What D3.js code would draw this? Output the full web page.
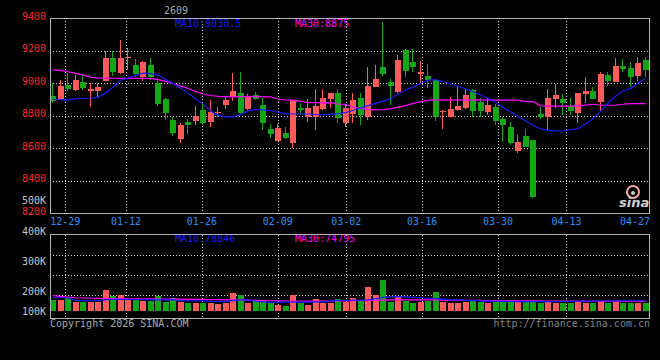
<!DOCTYPE html>
<html><head><meta charset="utf-8">
<script src="https://cdn.jsdelivr.net/npm/d3@7"></script>
<style>html,body{margin:0;padding:0;background:#000;}svg{display:block;}</style>
</head><body>
<svg id="c" width="660" height="360"></svg>
<script>
const contract = "2609";
const dates = ["12-25","12-26","12-29","12-30","12-31","01-05","01-06","01-07","01-08","01-09",
"01-12","01-13","01-14","01-15","01-16","01-19","01-20","01-21","01-22","01-23",
"01-26","01-27","01-28","01-29","01-30","02-02","02-03","02-04","02-05","02-06",
"02-09","02-10","02-11","02-12","02-13","02-24","02-25","02-26","02-27","03-02",
"03-03","03-04","03-05","03-06","03-09","03-10","03-11","03-12","03-13","03-16",
"03-17","03-18","03-19","03-20","03-23","03-24","03-25","03-26","03-27","03-30",
"03-31","04-01","04-02","04-03","04-07","04-08","04-09","04-10","04-13","04-14",
"04-15","04-16","04-17","04-20","04-21","04-22","04-23","04-24","04-27","04-28"];
const open = [8922,8903,8990,8959,9010,8954,8954,9016,9154,9062,
9154,9113,9041,9113,9004,8903,8774,8657,8762,8770,
8836,8762,8815,8866,8918,8938,8840,8928,8866,8719,
8645,8696,8630,8850,8795,8790,8840,8903,8938,8754,
8811,8908,8795,8979,9102,9010,8948,9205,9133,9057,
9045,9020,8825,8795,8836,8846,8959,8887,8825,8856,
8778,8733,8585,8676,8651,8811,8790,8903,8903,8860,
8819,8934,8953,8887,9051,9010,9106,9092,9047,9143];
const high = [9000,9020,9065,9051,9057,9000,9004,9201,9201,9266,
9215,9148,9137,9154,9031,8908,8794,8754,8778,8860,
8873,8897,8852,8922,9065,9071,8932,8945,8911,8749,
8749,8733,8900,8880,8901,8965,8965,8942,8963,8873,
8938,8938,9102,9113,9379,9026,9174,9209,9209,9137,
9119,9025,8836,8918,8983,8963,8963,8908,8911,8873,
8794,8764,8682,8719,8651,8852,8963,8996,8932,8908,
8942,9037,8975,9071,9071,9154,9148,9129,9160,9164];
const low = [8880,8897,8954,8954,8959,8852,8908,9016,9045,9057,
9082,9041,9016,9020,8860,8774,8676,8634,8688,8743,
8743,8733,8791,8840,8893,8805,8836,8897,8713,8661,
8645,8657,8600,8805,8764,8713,8836,8846,8754,8733,
8758,8743,8774,8975,9045,8866,8942,9041,9071,9004,
8969,8770,8719,8790,8830,8840,8795,8795,8805,8743,
8640,8620,8573,8605,8292,8780,8713,8846,8805,8805,
8754,8880,8903,8831,8983,9010,9071,8975,9014,9037];
const close = [8893,8983,8963,9020,8969,8963,8975,9154,9071,9154,
9164,9057,9133,9037,8873,8815,8696,8743,8745,8799,
8758,8823,8825,8897,8953,8815,8922,8903,8754,8688,
8727,8665,8897,8835,8850,8858,8911,8938,8785,8846,
8897,8805,8983,9026,9057,8983,9143,9078,9098,9071,
9020,8795,8830,8842,8860,8928,8830,8830,8866,8770,
8743,8631,8637,8610,8302,8793,8908,8928,8877,8830,
8938,8953,8903,9057,9014,9106,9088,9037,9123,9082];
const volume = [85000,85000,98000,72000,72000,72000,72000,162000,115000,123000,
90000,90000,79000,77000,115000,72000,98000,72000,59000,64000,
59000,59000,52000,59000,141000,123000,64000,79000,79000,59000,
46000,38000,123000,64000,46000,92000,59000,64000,92000,72000,
98000,79000,182000,123000,238000,72000,115000,80000,65000,70000,
75000,146000,70000,65000,62000,70000,75000,68000,62000,70000,
72000,85000,75000,70000,80000,62000,72000,65000,60000,62000,
70000,62000,60000,75000,62000,70000,60000,62000,65000,62000];
const ma10 = [8902,8900,8897,8906,8908,8908,8915,8940,8977,9020,
9033,9049,9062,9060,9049,9025,8998,8969,8938,8903,
8872,8830,8803,8794,8794,8809,8830,8840,8837,8831,
8822,8813,8811,8811,8811,8808,8806,8810,8813,8820,
8834,8849,8863,8876,8890,8905,8934,8959,8978,9000,
9020,9022,9011,8996,8980,8965,8948,8928,8908,8882,
8851,8823,8796,8768,8740,8719,8710,8706,8708,8713,
8722,8750,8783,8830,8880,8922,8953,8969,9002,9030.5];
const ma30 = [9084,9078,9071,9061,9052,9037,9033,9031,9031,9030,
9031,9030,9030,9029,9023,9012,8999,8983,8968,8949,
8934,8925,8919,8918,8917,8918,8919,8918,8917,8916,
8902,8898,8897,8889,8881,8881,8880,8881,8871,8871,
8854,8846,8839,8836,8838,8844,8853,8863,8876,8887,
8897,8897,8898,8898,8897,8896,8897,8898,8898,8897,
8897,8896,8896,8887,8887,8861,8860,8859,8860,8860,
8861,8866,8871,8865,8865,8865,8871,8875,8875,8875];
const volMa10 = [105000,104000,100000,82000,80000,79000,80000,88000,90000,90000,
89000,88000,87000,87000,86000,86000,85000,80000,79000,79000,
78000,74000,72000,72000,82000,85000,85000,75000,70000,69000,
69000,68000,68000,69000,69000,70000,70000,80000,82000,82000,
83000,84000,86000,95000,105000,108000,110000,108000,105000,102000,
98000,95000,92000,88000,85000,82000,80000,78000,76000,75000,
74000,73000,72000,72000,72000,72000,72000,72000,73000,74000,
75000,76000,76000,77000,77000,78000,78000,79000,79000,78846];
const volMa30 = [118000,112000,106000,102000,100000,98000,97000,96000,95000,95000,
94000,94000,93000,93000,92000,92000,91000,91000,90000,90000,
89000,88000,87000,86000,86000,85000,84000,82000,80000,79000,
78000,77000,77000,77000,76000,76000,77000,77000,78000,78000,
79000,80000,81000,82000,84000,85000,86000,86000,86000,85000,
85000,85000,84000,84000,83000,82000,82000,81000,80000,80000,
79000,79000,78000,78000,78000,77000,77000,77000,76000,76000,
76000,76000,75000,75000,75000,75000,75000,75000,75000,74795];
const priceTicks = [9400,9200,9000,8800,8600,8400,8200];
const volTickValues = [500000,400000,300000,200000,100000];
const volTickLabels = ["500K","400K","300K","200K","100K"];
const dateTicks = ["12-29","01-12","01-26","02-09","03-02","03-16","03-30","04-13","04-27"];
const copyright = "Copyright 2026 SINA.COM";
const sourceUrl = "http://finance.sina.com.cn";

const W=660,H=360,L=50,R=650;
const mainTop=18.3, mainBot=213.3, volTop=234.5, volBot=318.5, volBase=311;
const RED="#ff5a5a", GREEN="#14a614", BLUE="#1a1aff", MAG="#ff00ff";
const FONT="DejaVu Sans Mono";
const n=dates.length;
const svg=d3.select("#c");
svg.append("rect").attr("width",W).attr("height",H).attr("fill","#000");

const x=d3.scaleBand().domain(d3.range(n)).range([L,R]);
const gx=d3.scaleLinear().domain([0,n-1]).range([L,R]);
const y=d3.scaleLinear().domain([8200,9400]).range([mainBot,mainTop]);
const yv=d3.scaleLinear().domain([0,400000]).range([volBase,volBase-52]);
const yvLab=d3.scaleLinear().domain([100000,200000,300000,400000,500000]).range([311,291,261,231,200]);
const yvGrid=d3.scaleLinear().domain([0,4]).range([315.3,234.5]);
const bw=6;
const bx=i=>Math.round(x(i));
const cx=i=>bx(i)+2.5;
const col=i=>close[i]>=open[i]?RED:GREEN;

const grid=svg.append("g").attr("stroke","#d8d8d8").attr("stroke-dasharray","1,2").attr("shape-rendering","crispEdges");
// horizontal grid main
priceTicks.filter(v=>v<9400&&v>8200).forEach(v=>{
  const yy=Math.round(y(v))+0.5;
  grid.append("line").attr("x1",L).attr("x2",R).attr("y1",yy).attr("y2",yy);
});
[1,2,3].forEach(k=>{
  const yy=Math.round(yvGrid(k))+0.5;
  grid.append("line").attr("x1",L).attr("x2",R).attr("y1",yy).attr("y2",yy);
});
// vertical grid
dateTicks.forEach(t=>{
  const idx=dates.indexOf(t);
  const xx=Math.round(gx(idx))+0.5;
  if(xx>R-10) return;
  grid.append("line").attr("x1",xx).attr("x2",xx).attr("y1",mainTop).attr("y2",mainBot);
  grid.append("line").attr("x1",xx).attr("x2",xx).attr("y1",volTop).attr("y2",volBot);
});

// candles
const cg=svg.append("g").attr("shape-rendering","crispEdges");
d3.range(n).forEach(i=>{
  const c=col(i);
  cg.append("line").attr("x1",cx(i)).attr("x2",cx(i)).attr("y1",y(high[i])).attr("y2",y(low[i])).attr("stroke",c);
  const top=y(Math.max(open[i],close[i])), bot=y(Math.min(open[i],close[i]));
  cg.append("rect").attr("x",bx(i)).attr("width",bw).attr("y",top).attr("height",Math.max(1,bot-top)).attr("fill",c);
});
// MA lines main
const line=d3.line().x((d,i)=>x(i)+x.bandwidth()/2-0.5).y(d=>y(d));
svg.append("path").attr("d",line(ma30)).attr("fill","none").attr("stroke",MAG).attr("stroke-width",1.2);
svg.append("path").attr("d",line(ma10)).attr("fill","none").attr("stroke",BLUE).attr("stroke-width",1.2);

// volume bars
const vg=svg.append("g").attr("shape-rendering","crispEdges");
d3.range(n).forEach(i=>{
  vg.append("rect").attr("x",bx(i)).attr("width",bw).attr("y",yv(volume[i])).attr("height",volBase-yv(volume[i])).attr("fill",col(i));
});
const vline=d3.line().x((d,i)=>x(i)+x.bandwidth()/2-0.5).y(d=>yv(d));
svg.append("path").attr("d",vline(volMa30)).attr("fill","none").attr("stroke",MAG).attr("stroke-width",1.2);
svg.append("path").attr("d",vline(volMa10)).attr("fill","none").attr("stroke",BLUE).attr("stroke-width",1.2);

// legends
const txt=(s,xx,yy,c,anchor)=>svg.append("text").attr("x",xx).attr("y",yy).attr("fill",c)
  .attr("font-family",FONT).attr("font-size",10).attr("text-anchor",anchor||"start").text(s);
txt(contract,164,14,"#a8a8a8");
txt("MA10:"+ma10[n-1],175,27,BLUE);
txt("MA30:"+ma30[n-1],295,27,MAG);
txt("MA10:"+volMa10[n-1],175,241.5,BLUE);
txt("MA30:"+volMa30[n-1],295,241.5,MAG);

// borders
const bg=svg.append("g").attr("stroke","#b4b4b4").attr("fill","none").attr("shape-rendering","crispEdges");
bg.append("line").attr("x1",L).attr("x2",R).attr("y1",18.5).attr("y2",18.5);
bg.append("line").attr("x1",L).attr("x2",R).attr("y1",213.5).attr("y2",213.5);
bg.append("line").attr("x1",50.5).attr("x2",50.5).attr("y1",18.5).attr("y2",213.5);
bg.append("line").attr("x1",649.5).attr("x2",649.5).attr("y1",18.5).attr("y2",213.5);
bg.append("line").attr("x1",L).attr("x2",R).attr("y1",234.5).attr("y2",234.5);
bg.append("line").attr("x1",L).attr("x2",R).attr("y1",318.5).attr("y2",318.5);
bg.append("line").attr("x1",50.5).attr("x2",50.5).attr("y1",234.5).attr("y2",318.5);
bg.append("line").attr("x1",649.5).attr("x2",649.5).attr("y1",234.5).attr("y2",318.5);

// price axis labels
priceTicks.forEach(v=>txt(String(v),46,y(v)+1.6,"#ff2020","end"));
// volume axis labels
volTickValues.forEach((v,k)=>txt(volTickLabels[k],46,yvLab(v)+3.6,"#c4c4c4","end"));
// date labels
dateTicks.forEach(t=>{
  const xx=gx(dates.indexOf(t));
  if(xx+15>R) txt(t,R,225,"#2090ff","end");
  else txt(t,xx,225,"#2090ff","middle");
});
txt(copyright,50,327,"#a8a8a8");
txt(sourceUrl,650,327,"#808080","end");

// sina logo
const lg=svg.append("g");
lg.append("circle").attr("cx",633).attr("cy",192).attr("r",6).attr("fill","none").attr("stroke","#f4a8a8").attr("stroke-width",2);
lg.append("circle").attr("cx",633).attr("cy",193).attr("r",2).attr("fill","#d0d0d0");
lg.append("text").attr("x",619).attr("y",207).attr("fill","#cfcfcf").attr("font-family","DejaVu Sans")
  .attr("font-size",13).attr("font-weight","bold").attr("font-style","italic").text("sina");
</script>
</body></html>
